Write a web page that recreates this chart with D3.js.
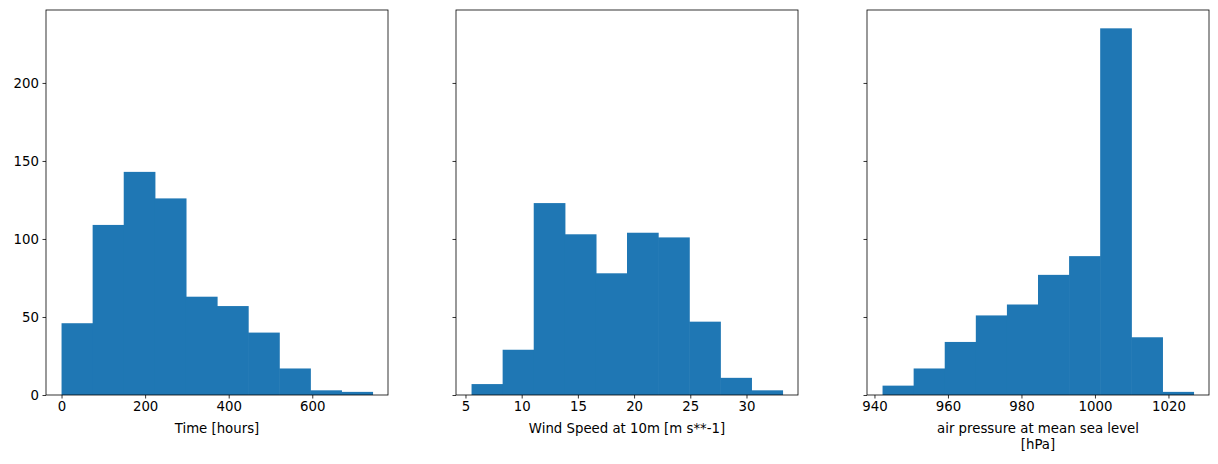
<!DOCTYPE html>
<html><head><meta charset="utf-8">
<script src="https://cdn.jsdelivr.net/npm/d3@7"></script>
<style>body{margin:0;background:#fff}text{font-family:"DejaVu Sans",sans-serif}</style>
</head><body><svg id="c" width="1218" height="464"></svg>
<script>
const timeCounts = [46, 109, 143, 126, 63, 57, 40, 17, 3, 2]
const timeRange = [0, 744]
const windCounts = [7, 29, 123, 103, 78, 104, 101, 47, 11, 3]
const windRange = [5.54, 33.2]
const presCounts = [6, 17, 34, 51, 58, 77, 89, 235, 37, 2]
const presRange = [942.2, 1026.8]
const yTicks = [0, 50, 100, 150, 200]

const panels = [
  {counts: timeCounts, range: timeRange, ticks: [0, 200, 400, 600], label: ["Time [hours]"], left: 46},
  {counts: windCounts, range: windRange, ticks: [5, 10, 15, 20, 25, 30], label: ["Wind Speed at 10m [m s**-1]"], left: 456},
  {counts: presCounts, range: presRange, ticks: [940, 960, 980, 1000, 1020], label: ["air pressure at mean sea level", "[hPa]"], left: 867}
]
const W = 342, plotTop = 10, plotBottom = 395
const svg = d3.select("#c")
const ymax = d3.max([...timeCounts, ...windCounts, ...presCounts]) * 1.05
const y = d3.scaleLinear().domain([0, ymax]).range([plotBottom, plotTop])

panels.forEach((p, i) => {
  const [lo, hi] = p.range, m = (hi - lo) * 0.05
  const x = d3.scaleLinear().domain([lo - m, hi + m]).range([p.left, p.left + W])
  const bw = (hi - lo) / p.counts.length
  const g = svg.append("g")
  g.selectAll("rect").data(p.counts).join("rect")
    .attr("x", (d, j) => x(lo + j * bw))
    .attr("width", (d, j) => x(lo + (j + 1) * bw) - x(lo + j * bw) + 0.6)
    .attr("y", d => y(d)).attr("height", d => plotBottom - y(d))
    .attr("fill", "#1f77b4")
  const xa = g.append("g").attr("transform", `translate(0,${plotBottom})`)
    .call(d3.axisBottom(x).tickValues(p.ticks).tickSize(3.5).tickPadding(3.5).tickFormat(d3.format("d")))
  const ya = g.append("g").attr("transform", `translate(${p.left},0)`)
    .call(d3.axisLeft(y).tickValues(yTicks).tickSize(3.5).tickPadding(3.5).tickFormat(i === 0 ? d3.format("d") : ""))
  ;[xa, ya].forEach(a => {
    a.select(".domain").remove()
    a.selectAll("text").attr("font-size", 13.3).attr("fill", "#000").style("font-family", "DejaVu Sans")
    a.selectAll("line").attr("stroke", "#000").attr("stroke-width", 0.8)
  })
  g.append("rect").attr("x", p.left).attr("y", plotTop).attr("width", W).attr("height", plotBottom - plotTop)
    .attr("fill", "none").attr("stroke", "#000").attr("stroke-width", 0.8)
  p.label.forEach((t, k) => g.append("text").attr("x", p.left + W / 2).attr("y", 433 + k * 16)
    .attr("text-anchor", "middle").attr("font-size", 13.3).text(t))
})
</script></body></html>
